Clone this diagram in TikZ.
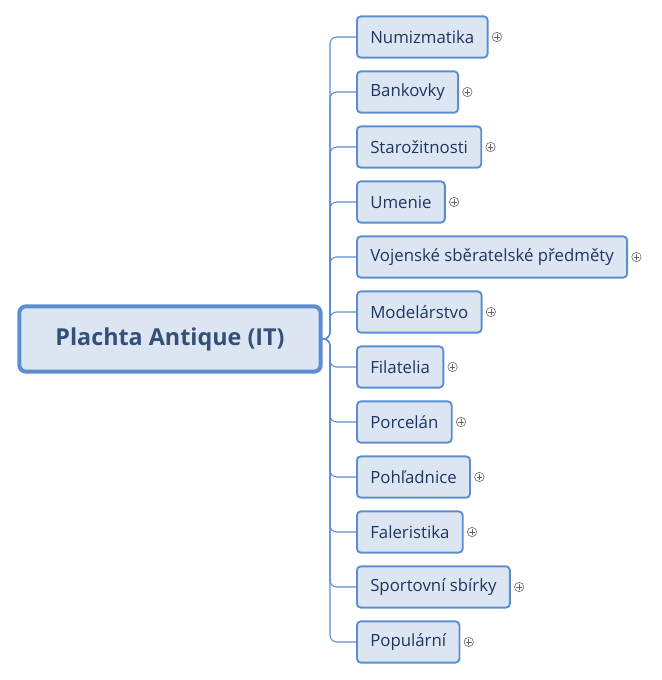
\documentclass[tikz,border=0pt]{standalone}
\usepackage{fontspec}
\setmainfont{Open Sans}
\usetikzlibrary{positioning}
\definecolor{boxfill}{HTML}{DCE6F2}
\definecolor{boxline}{HTML}{5B8DD0}
\definecolor{boxtext}{HTML}{1F3560}
\definecolor{roottext}{HTML}{34507A}
\begin{document}
\begin{tikzpicture}[x=0.75pt,y=-0.75pt,
  topic/.style={draw=boxline,fill=boxfill,rounded corners=3pt,line width=1.4pt,
    minimum height=31pt,inner xsep=10pt,anchor=west,text=boxtext,font=\fontsize{12.6}{15}\selectfont},
  root/.style={draw=boxline,fill=boxfill,rounded corners=5pt,line width=3pt,
    minimum width=226pt,minimum height=49pt,text=roottext,font=\fontsize{17.5}{20}\selectfont\bfseries},
  plus/.style={circle,draw=black!55,line width=0.5pt,minimum size=7pt,inner sep=0pt,
    path picture={\draw[black!60,line width=0.5pt] (path picture bounding box.west) ++(1.4pt,0) -- ++(4.2pt,0)
      (path picture bounding box.north) ++(0,-1.4pt) -- ++(0,-4.2pt);}},
  link/.style={boxline,line width=0.8pt,rounded corners=5pt},
]
  \useasboundingbox (0,0) rectangle (661,680);

  \node[root] (root) at (170,339) {Plachta Antique (IT)};
  \coordinate (bus) at (330,339);

  \foreach \txt [count=\i] in {Numizmatika,Bankovky,Starožitnosti,Umenie,
      Vojenské sběratelské předměty,Modelárstvo,Filatelia,Porcelán,
      Pohľadnice,Faleristika,Sportovní sbírky,Populární} {
    \node[topic] (t\i) at (356,{37+55*(\i-1)}) {\txt};
    \node[plus, right=2.5pt of t\i] (p\i) {};
    \draw[link] (root.east) -- (bus) |- (t\i.west);
  }
\end{tikzpicture}
\end{document}
